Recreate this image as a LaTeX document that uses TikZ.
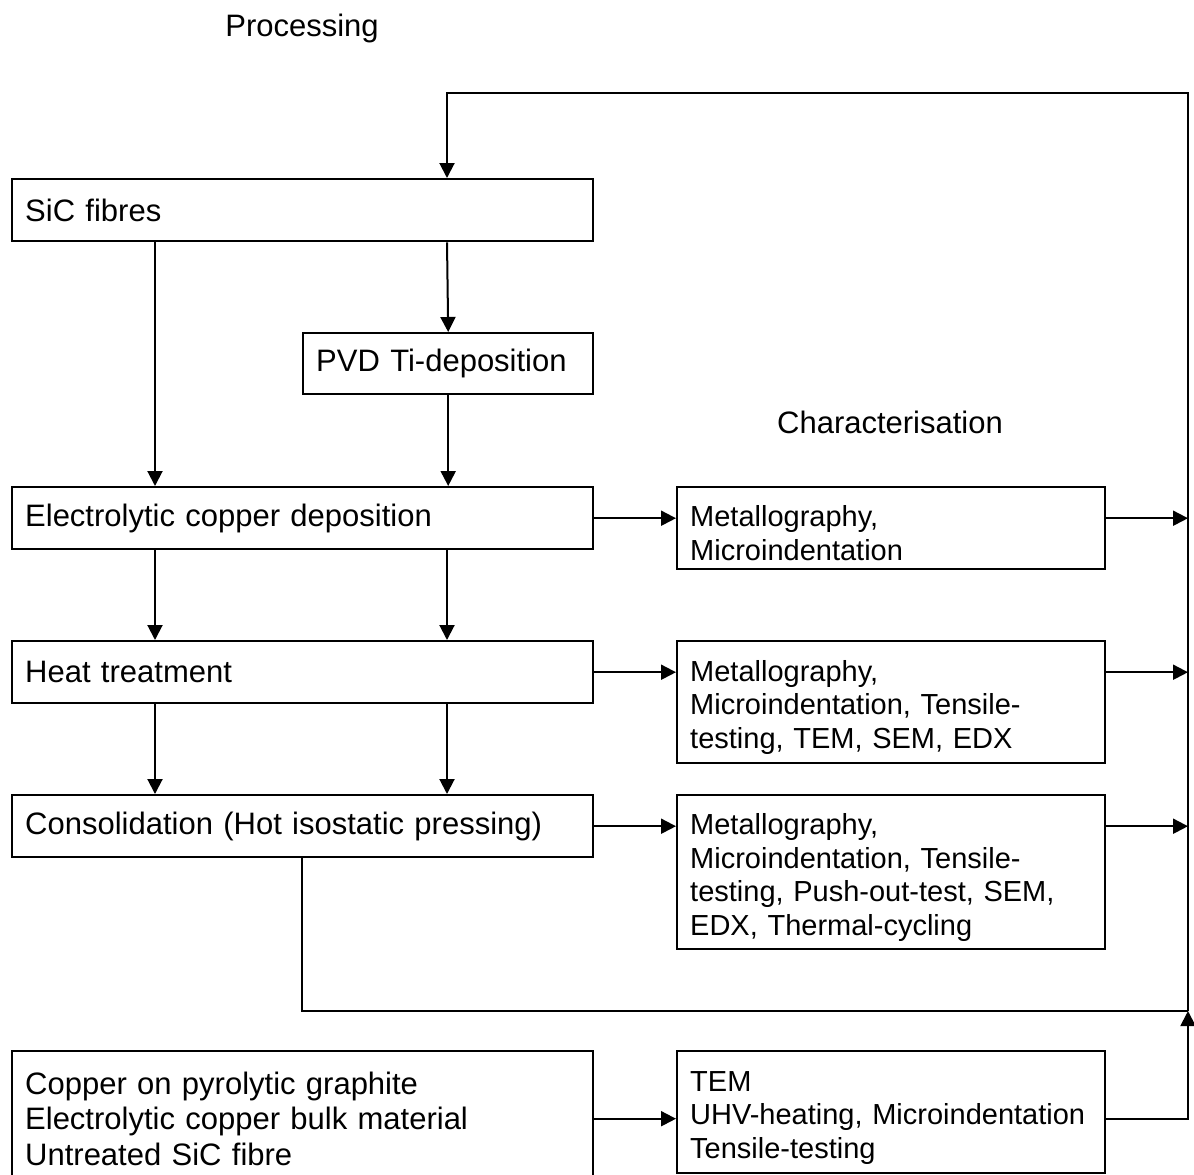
\documentclass[tikz,border=0pt]{standalone}
\usepackage{fontspec}
\setmainfont{Liberation Sans}
\usetikzlibrary{arrows.meta}
\begin{document}
\begin{tikzpicture}[x=0.5pt,y=-0.5pt,
  box/.style={draw,line width=1.2pt,anchor=north west,inner xsep=6.5pt,inner ysep=0pt,align=left},
  procbox/.style={box,font=\fontsize{15.5}{17.75}\selectfont},
  charbox/.style={box,font=\fontsize{14.5}{16.75}\selectfont,minimum width=214pt,text width=201pt,text height=15.6pt},
  conn/.style={line width=1pt},
  arr/.style={conn,-{Triangle[length=7.5pt,width=7.5pt]}},
  heading/.style={font=\fontsize{15.5}{17.75}\selectfont}]
\clip (0,0) rectangle (1194,1174);
\fill[white] (0,0) rectangle (1194,1174);
% headings
\node[heading] (hproc) at (302,28) {Processing};
\node[heading] (hchar) at (890,422) {Characterisation};
% processing boxes
\node[procbox,minimum width=290.5pt,minimum height=31pt,text width=277.5pt] (sic) at (11,178) {SiC fibres};
\node[procbox,minimum width=145pt,minimum height=30.5pt,text width=132pt] (pvd) at (302,332) {PVD Ti-deposition};
\node[procbox,minimum width=290.5pt,minimum height=31pt,text width=277.5pt] (elec) at (11,486) {Electrolytic copper deposition};
\node[procbox,minimum width=290.5pt,minimum height=31pt,text width=277.5pt] (heat) at (11,640) {Heat treatment};
\node[procbox,minimum width=290.5pt,minimum height=31pt,text width=277.5pt] (cons) at (11,794) {Consolidation (Hot isostatic pressing)};
\node[procbox,minimum width=290.5pt,minimum height=67.5pt,text width=277.5pt] (raw) at (11,1050) {Copper on pyrolytic graphite\\Electrolytic copper bulk material\\Untreated SiC fibre};
% characterisation boxes
\node[charbox,minimum height=41pt] (c1) at (676,486) {Metallography,\\Microindentation};
\node[charbox,minimum height=61pt] (c2) at (676,640) {Metallography,\\Microindentation, Tensile-\\testing, TEM, SEM, EDX};
\node[charbox,minimum height=77pt] (c3) at (676,794) {Metallography,\\Microindentation, Tensile-\\testing, Push-out-test, SEM,\\EDX, Thermal-cycling};
\node[charbox,minimum height=61pt] (c4) at (676,1050) {TEM\\UHV-heating, Microindentation\\Tensile-testing};
% helper coordinates
\coordinate (cL) at (155,0);
\coordinate (cR) at (447,0);
\coordinate (cM) at (302,0);
\coordinate (tr) at (1188,93);
\coordinate (tl) at (447,93);
\coordinate (j) at (1188,1011);
% feedback loop
\draw[arr] (j) -- (tr) -- (tl) -- (tl |- sic.north);
% vertical flow
\draw[arr] (cL |- sic.south) -- (cL |- elec.north);
\draw[arr] (cR |- sic.south) -- (pvd.north);
\draw[arr] (pvd.south) -- (pvd.south |- elec.north);
\draw[arr] (cL |- elec.south) -- (cL |- heat.north);
\draw[arr] (cR |- elec.south) -- (cR |- heat.north);
\draw[arr] (cL |- heat.south) -- (cL |- cons.north);
\draw[arr] (cR |- heat.south) -- (cR |- cons.north);
\draw[conn] (cM |- cons.south) -- (cM |- j) -- (j);
% to characterisation
\draw[arr] (elec.east) -- (elec.east -| c1.west);
\draw[arr] (heat.east) -- (heat.east -| c2.west);
\draw[arr] (cons.east) -- (cons.east -| c3.west);
\draw[arr] (raw.east) -- (raw.east -| c4.west);
% from characterisation to loop
\draw[arr] (elec.east -| c1.east) -- (elec.east -| tr);
\draw[arr] (heat.east -| c2.east) -- (heat.east -| tr);
\draw[arr] (cons.east -| c3.east) -- (cons.east -| tr);
\draw[arr] (raw.east -| c4.east) -- (raw.east -| tr) -- (j);
\end{tikzpicture}
\end{document}
